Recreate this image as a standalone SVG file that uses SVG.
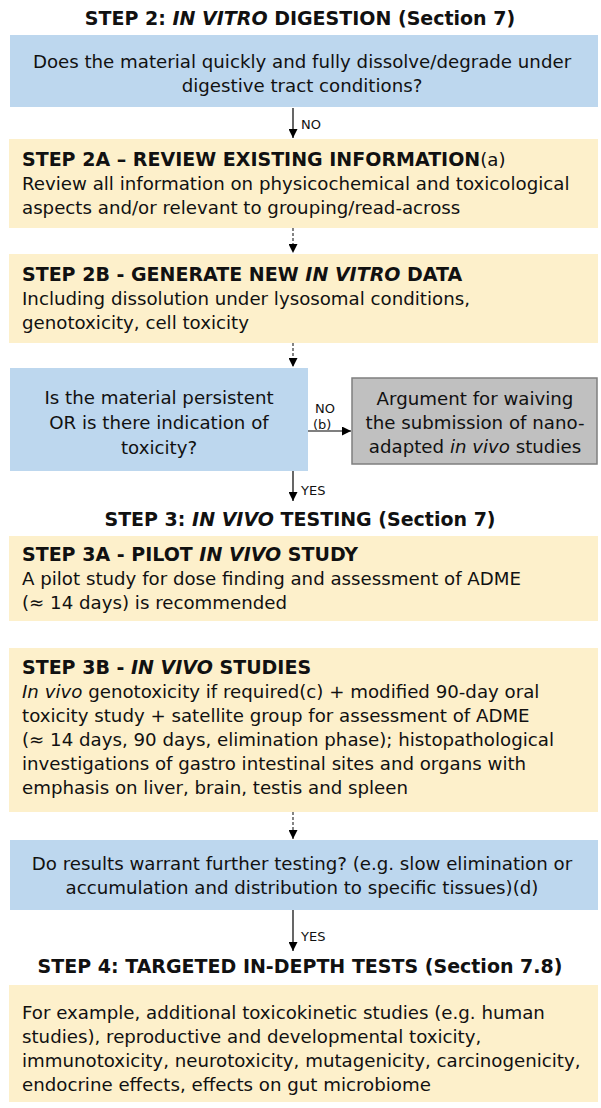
<svg xmlns="http://www.w3.org/2000/svg" width="601" height="1108" viewBox="0 0 601 1108">
<style>
.t{font-family:"DejaVu Sans",Verdana,sans-serif;font-size:18.2px;fill:#111}
.b{font-weight:bold;font-size:19px}
.c{text-anchor:middle}
.i{font-style:italic}
.lbl{font-family:"DejaVu Sans",Verdana,sans-serif;font-size:13px;fill:#111}
.blue{fill:#bdd7ee}
.beige{fill:#fdf0cb}
.grey{fill:#c0c0c0;stroke:#7f7f7f;stroke-width:1.5}
.ln{stroke:#000;stroke-width:1.2;fill:none}
.dash{stroke-dasharray:3 2;stroke:#333}
</style>
<defs>
<marker id="ah" viewBox="0 0 10 10" refX="10" refY="5" markerWidth="9" markerHeight="9" markerUnits="userSpaceOnUse" orient="auto">
<path d="M0,0 L10,5 L0,10 z" fill="#000"/>
</marker>
</defs>
<rect width="601" height="1108" fill="#fff"/>

<g id="title2"><text class="t b c" x="300" y="25">STEP 2: <tspan class="i">IN VITRO</tspan> DIGESTION (Section 7)</text></g>

<g id="q1">
<rect class="blue" x="10" y="35" width="588" height="72"/>
<text class="t c" x="302" y="68">Does the material quickly and fully dissolve/degrade under</text>
<text class="t c" x="302" y="92">digestive tract conditions?</text>
</g>

<g id="s2a">
<rect class="beige" x="9" y="139" width="589" height="89"/>
<text class="t" x="22" y="166"><tspan class="b">STEP 2A – REVIEW EXISTING INFORMATION</tspan>(a)</text>
<text class="t" x="22" y="190">Review all information on physicochemical and toxicological</text>
<text class="t" x="22" y="214">aspects and/or relevant to grouping/read-across</text>
</g>

<g id="s2b">
<rect class="beige" x="9" y="254" width="589" height="89"/>
<text class="t" x="22" y="281"><tspan class="b">STEP 2B - GENERATE NEW <tspan class="i">IN VITRO</tspan> DATA</tspan></text>
<text class="t" x="22" y="305">Including dissolution under lysosomal conditions,</text>
<text class="t" x="22" y="329">genotoxicity, cell toxicity</text>
</g>

<g id="q2">
<rect class="blue" x="10" y="368" width="298" height="103"/>
<text class="t c" x="159" y="404">Is the material persistent</text>
<text class="t c" x="159" y="429">OR is there indication of</text>
<text class="t c" x="159" y="454">toxicity?</text>
</g>

<g id="waive">
<rect class="grey" x="352" y="378" width="245" height="86"/>
<text class="t c" x="475" y="405">Argument for waiving</text>
<text class="t c" x="475" y="429">the submission of nano-</text>
<text class="t c" x="475" y="453">adapted <tspan class="i">in vivo</tspan> studies</text>
</g>

<g id="title3"><text class="t b c" x="300" y="526">STEP 3: <tspan class="i">IN VIVO</tspan> TESTING (Section 7)</text></g>

<g id="s3a">
<rect class="beige" x="9" y="536" width="589" height="85"/>
<text class="t" x="22" y="561"><tspan class="b">STEP 3A - PILOT <tspan class="i">IN VIVO</tspan> STUDY</tspan></text>
<text class="t" x="22" y="585">A pilot study for dose finding and assessment of ADME</text>
<text class="t" x="22" y="609">(≈ 14 days) is recommended</text>
</g>

<g id="s3b">
<rect class="beige" x="9" y="648" width="589" height="164"/>
<text class="t" x="22" y="674"><tspan class="b">STEP 3B - <tspan class="i">IN VIVO</tspan> STUDIES</tspan></text>
<text class="t" x="22" y="698"><tspan class="i">In vivo</tspan> genotoxicity if required(c) + modified 90-day oral</text>
<text class="t" x="22" y="722">toxicity study + satellite group for assessment of ADME</text>
<text class="t" x="22" y="746">(≈ 14 days, 90 days, elimination phase); histopathological</text>
<text class="t" x="22" y="770">investigations of gastro intestinal sites and organs with</text>
<text class="t" x="22" y="794">emphasis on liver, brain, testis and spleen</text>
</g>

<g id="q3">
<rect class="blue" x="10" y="840" width="588" height="70"/>
<text class="t c" x="302" y="870">Do results warrant further testing? (e.g. slow elimination or</text>
<text class="t c" x="302" y="894">accumulation and distribution to specific tissues)(d)</text>
</g>

<g id="title4"><text class="t b c" x="300" y="973">STEP 4: TARGETED IN-DEPTH TESTS (Section 7.8)</text></g>

<g id="s4">
<rect class="beige" x="9" y="985" width="589" height="117"/>
<text class="t" x="22" y="1019">For example, additional toxicokinetic studies (e.g. human</text>
<text class="t" x="22" y="1043">studies), reproductive and developmental toxicity,</text>
<text class="t" x="22" y="1067">immunotoxicity, neurotoxicity, mutagenicity, carcinogenicity,</text>
<text class="t" x="22" y="1091">endocrine effects, effects on gut microbiome</text>
</g>

<g id="connectors">
<line class="ln" x1="293" y1="108" x2="293" y2="138" marker-end="url(#ah)"/>
<text class="lbl" x="301" y="129">NO</text>
<line class="ln dash" x1="293" y1="228" x2="293" y2="253" marker-end="url(#ah)"/>
<line class="ln dash" x1="293" y1="343" x2="293" y2="367" marker-end="url(#ah)"/>
<line class="ln" x1="308" y1="431" x2="351" y2="431" marker-end="url(#ah)"/>
<text class="lbl" x="315" y="413">NO</text>
<text class="lbl" x="313" y="429">(b)</text>
<line class="ln" x1="293" y1="471" x2="293" y2="501" marker-end="url(#ah)"/>
<text class="lbl" x="301" y="495">YES</text>
<line class="ln dash" x1="293" y1="812" x2="293" y2="839" marker-end="url(#ah)"/>
<line class="ln" x1="293" y1="910" x2="293" y2="951" marker-end="url(#ah)"/>
<text class="lbl" x="301" y="941">YES</text>
</g>
</svg>
